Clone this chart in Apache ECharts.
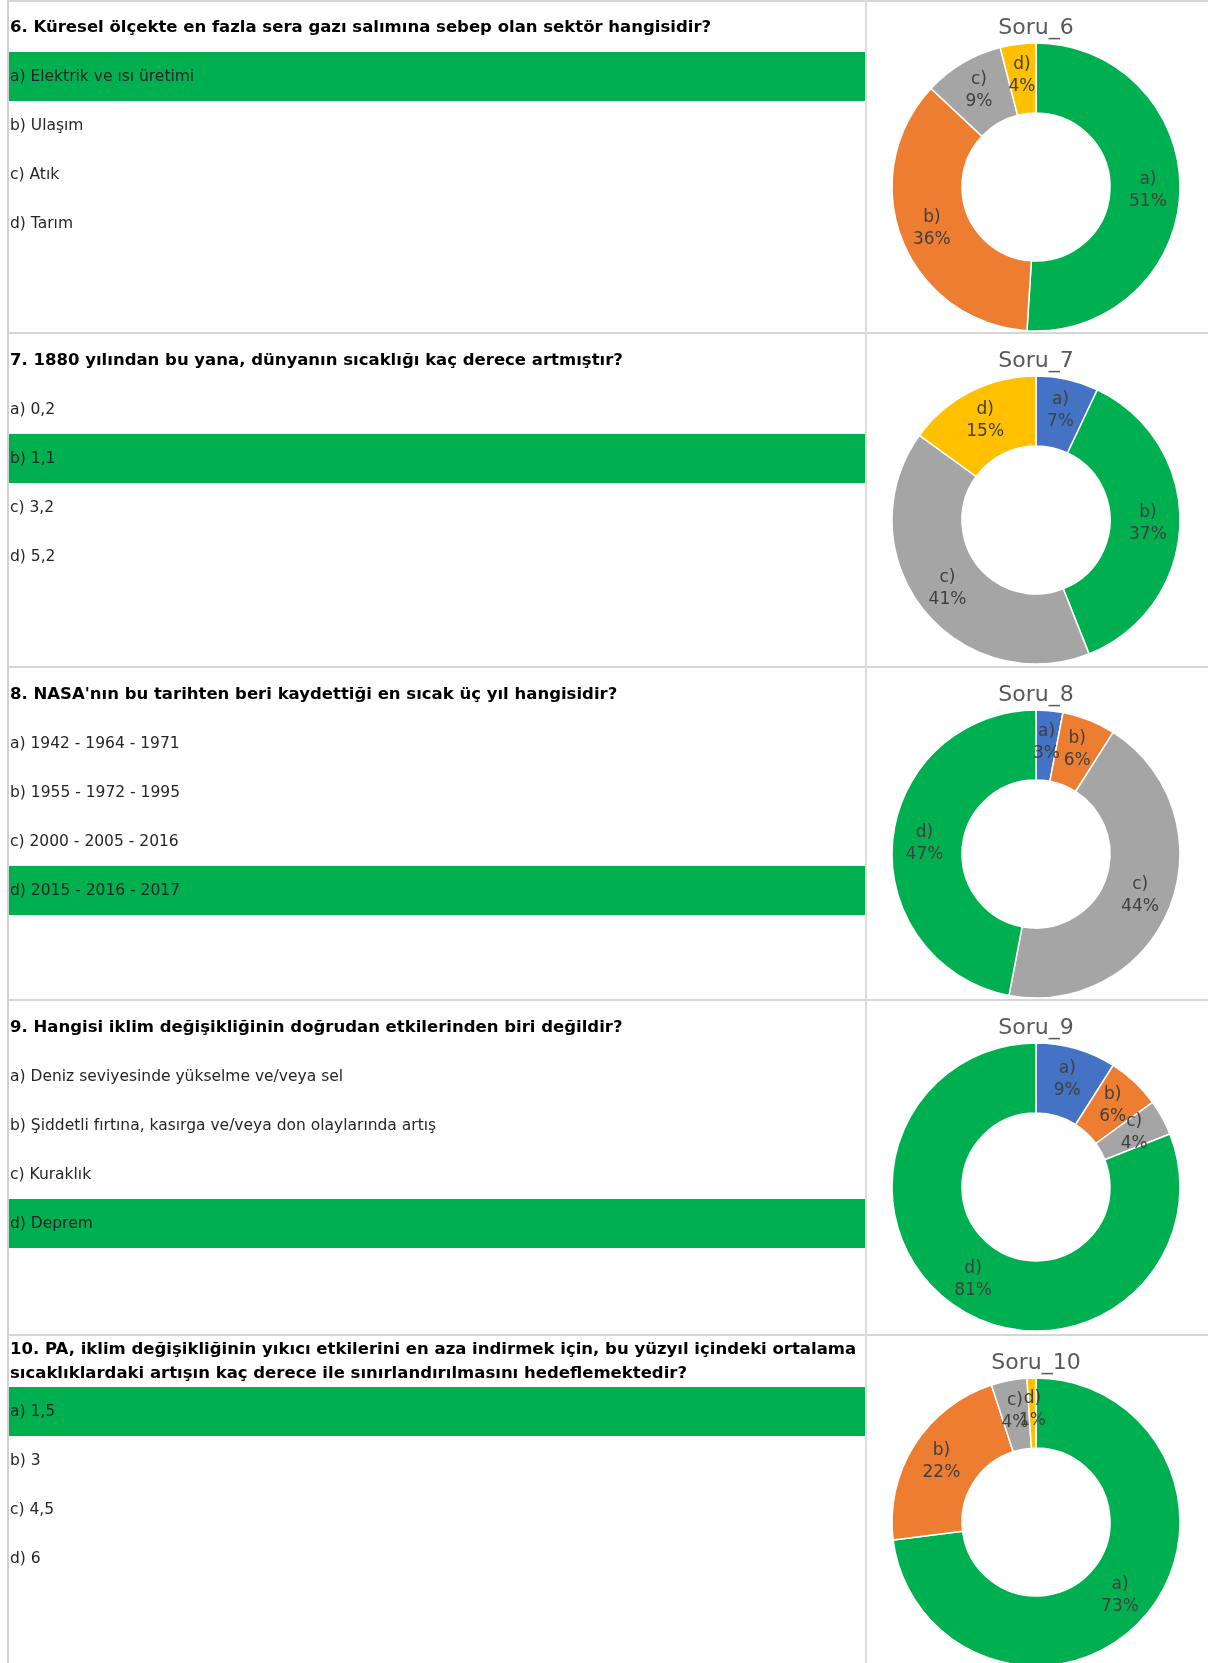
<!DOCTYPE html>
<html>
<head>
<meta charset="utf-8">
<script src="https://cdn.jsdelivr.net/npm/echarts@6/dist/echarts.min.js"></script>
<style>
  html, body { margin: 0; padding: 0; background: #fff; }
  #main { width: 1208px; height: 1663px; }
</style>
</head>
<body>
<div id="main"></div>
<script>
// sorular
var questions = [
    '6. Küresel ölçekte en fazla sera gazı salımına sebep olan sektör hangisidir?',
    '7. 1880 yılından bu yana, dünyanın sıcaklığı kaç derece artmıştır?',
    '8. NASA\'nın bu tarihten beri kaydettiği en sıcak üç yıl hangisidir?',
    '9. Hangisi iklim değişikliğinin doğrudan etkilerinden biri değildir?',
    '10. PA, iklim değişikliğinin yıkıcı etkilerini en aza indirmek için, bu yüzyıl içindeki ortalama\nsıcaklıklardaki artışın kaç derece ile sınırlandırılmasını hedeflemektedir?'
];
var options6 = ['a) Elektrik ve ısı üretimi', 'b) Ulaşım', 'c) Atık', 'd) Tarım'];
var options7 = ['a) 0,2', 'b) 1,1', 'c) 3,2', 'd) 5,2'];
var options8 = ['a) 1942 - 1964 - 1971', 'b) 1955 - 1972 - 1995', 'c) 2000 - 2005 - 2016', 'd) 2015 - 2016 - 2017'];
var options9 = ['a) Deniz seviyesinde yükselme ve/veya sel', 'b) Şiddetli fırtına, kasırga ve/veya don olaylarında artış', 'c) Kuraklık', 'd) Deprem'];
var options10 = ['a) 1,5', 'b) 3', 'c) 4,5', 'd) 6'];
var correct = [0, 1, 3, 3, 0];  // dogru cevap indeksi

// grafik verileri (yuzde)
var titles = ['Soru_6', 'Soru_7', 'Soru_8', 'Soru_9', 'Soru_10'];
var labels = ['a)', 'b)', 'c)', 'd)'];
var soru6 = [51, 36, 9, 4];
var soru7 = [7, 37, 41, 15];
var soru8 = [3, 6, 44, 47];
var soru9 = [9, 6, 4, 81];
var soru10 = [73, 22, 4, 1];

window.onload = function () {
    var allOptions = [options6, options7, options8, options9, options10];
    var allValues = [soru6, soru7, soru8, soru9, soru10];
    var palette = ['#4472C4', '#ED7D31', '#A5A5A5', '#FFC000'];
    var green = '#00B050';
    var rowTops = [0, 333, 667, 1000, 1335];
    var font = '"DejaVu Sans", sans-serif';

    var chart = echarts.init(document.getElementById('main'));

    var graphics = [];
    var series = [];

    for (var i = 0; i < 5; i++) {
        var rowTop = rowTops[i];

        // dogru cevap bandi
        graphics.push({
            type: 'rect', silent: true,
            shape: { x: 8, y: rowTop + 52 + correct[i] * 49, width: 858, height: 49 },
            style: { fill: green }
        });

        // soru metni
        graphics.push({
            type: 'text', silent: true,
            style: {
                x: 10, y: i === 4 ? rowTop + 27 : rowTop + 28,
                text: questions[i],
                fill: '#000', font: 'bold 16.5px ' + font,
                lineHeight: 24,
                verticalAlign: 'middle'
            }
        });

        // secenekler
        for (var k = 0; k < allOptions[i].length; k++) {
            graphics.push({
                type: 'text', silent: true,
                style: {
                    x: 10, y: rowTop + 77 + 49 * k,
                    text: allOptions[i][k],
                    fill: '#262626', font: '15.5px ' + font,
                    verticalAlign: 'middle'
                }
            });
        }

        // grafik basligi
        graphics.push({
            type: 'text', silent: true,
            style: {
                x: 1036, y: rowTop + 28,
                text: titles[i],
                fill: '#595959', font: '22px ' + font,
                align: 'center', verticalAlign: 'middle'
            }
        });

        // satir cizgisi
        if (i > 0) {
            graphics.push({
                type: 'line', silent: true,
                shape: { x1: 7, y1: rowTop, x2: 1208, y2: rowTop },
                style: { stroke: '#d6d6d6', lineWidth: 2 }
            });
        }

        var data = [];
        for (var j = 0; j < labels.length; j++) {
            data.push({
                name: labels[j],
                value: allValues[i][j],
                itemStyle: { color: j === correct[i] ? green : palette[j] }
            });
        }

        series.push({
            type: 'pie',
            center: [1036, rowTop + 187],
            radius: [74, 144],
            startAngle: 90,
            clockwise: true,
            silent: true,
            avoidLabelOverlap: false,
            itemStyle: { borderColor: '#fff', borderWidth: 1.5 },
            label: {
                show: true,
                position: 'inside',
                formatter: '{b}\n{c}%',
                color: '#404040',
                fontSize: 17,
                lineHeight: 22,
                fontFamily: font
            },
            labelLayout: { hideOverlap: false },
            labelLine: { show: false },
            data: data
        });
    }

    // cerceve cizgileri
    graphics.push({
        type: 'line', silent: true,
        shape: { x1: 7, y1: 1, x2: 1208, y2: 1 },
        style: { stroke: '#d6d6d6', lineWidth: 2 }
    });
    graphics.push({
        type: 'line', silent: true,
        shape: { x1: 8, y1: 0, x2: 8, y2: 1663 },
        style: { stroke: '#d0d0d0', lineWidth: 2 }
    });
    graphics.push({
        type: 'line', silent: true,
        shape: { x1: 866, y1: 0, x2: 866, y2: 1663 },
        style: { stroke: '#dcdcdc', lineWidth: 2 }
    });

    chart.setOption({
        animation: false,
        backgroundColor: '#fff',
        graphic: { elements: graphics },
        series: series
    });
};
</script>
</body>
</html>
